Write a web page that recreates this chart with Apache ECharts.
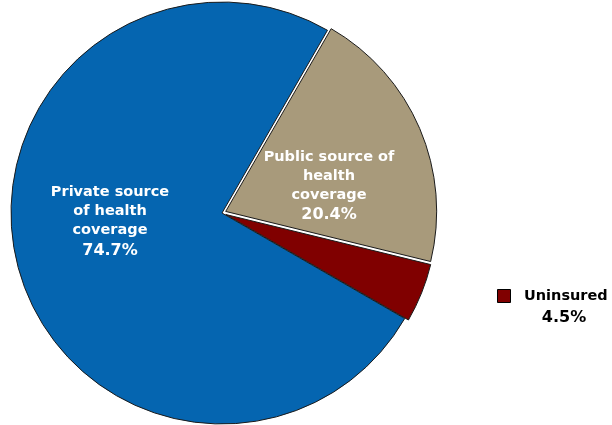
<!DOCTYPE html>
<html>
<head>
<meta charset="utf-8">
<script src="https://cdn.jsdelivr.net/npm/echarts@6/dist/echarts.min.js"></script>
<style>
  html, body { margin: 0; padding: 0; background: #fff; }
  #chart { width: 612px; height: 425px; }
</style>
</head>
<body>
<div id="chart"></div>
<script>
// Sources of health coverage (share of population, %)
const categories = ['Public source of health coverage', 'Uninsured', 'Private source of health coverage'];
const shares = [20.4, 4.5, 74.7];
const sliceColors = ['#A89A7B', '#800000', '#0565B0'];
const exploded = [true, true, false];

// Multi-line label text for the in-slice labels
const labelLines = {
  'Public source of health coverage': ['Public source of', 'health', 'coverage'],
  'Private source of health coverage': ['Private source', 'of health', 'coverage']
};

const chart = echarts.init(document.getElementById('chart'), null, { renderer: 'canvas' });

const font = '"DejaVu Sans", Verdana, sans-serif';

const richStyles = (color) => ({
  n: { fontFamily: font, fontWeight: 'bold', fontSize: 14.5, lineHeight: 19, color: color, fill: color },
  p: { fontFamily: font, fontWeight: 'bold', fontSize: 16, lineHeight: 21, color: color, fill: color }
});

function labelText(name) {
  const i = categories.indexOf(name);
  return labelLines[name].map(l => '{n|' + l + '}').join('\n') + '\n{p|' + shares[i].toFixed(1) + '%}';
}

function textBlock(name, cx, top) {
  return {
    type: 'text',
    x: cx,
    y: top,
    z: 100,
    style: {
      text: labelText(name),
      fill: '#fff',
      font: 'bold 14.5px ' + font,
      textAlign: 'center',
      rich: richStyles('#fff')
    }
  };
}

const uIdx = categories.indexOf('Uninsured');

chart.setOption({
  animation: false,
  series: [{
    type: 'pie',
    center: [222, 213],
    radius: [0, 211],
    startAngle: 60,
    clockwise: true,
    selectedMode: 'multiple',
    selectedOffset: 4,
    label: { show: false },
    labelLine: { show: false },
    emphasis: { disabled: true },
    itemStyle: { borderColor: '#1a1a1a', borderWidth: 1 },
    data: categories.map((c, i) => ({
      name: c,
      value: shares[i],
      selected: exploded[i],
      itemStyle: { color: sliceColors[i] }
    }))
  }],
  graphic: [
    textBlock('Private source of health coverage', 110, 183),
    textBlock('Public source of health coverage', 329, 147.5),
    {
      type: 'rect',
      z: 100,
      shape: { x: 497.5, y: 289.5, width: 13, height: 13 },
      style: { fill: sliceColors[uIdx], stroke: '#000', lineWidth: 1 }
    },
    {
      type: 'text',
      z: 100,
      x: 524, y: 289,
      style: { text: categories[uIdx], fill: '#000', font: 'bold 14.5px ' + font }
    },
    {
      type: 'text',
      z: 100,
      x: 564, y: 309.5,
      style: { text: shares[uIdx].toFixed(1) + '%', fill: '#000', font: 'bold 16px ' + font, textAlign: 'center' }
    }
  ]
});
</script>
</body>
</html>
